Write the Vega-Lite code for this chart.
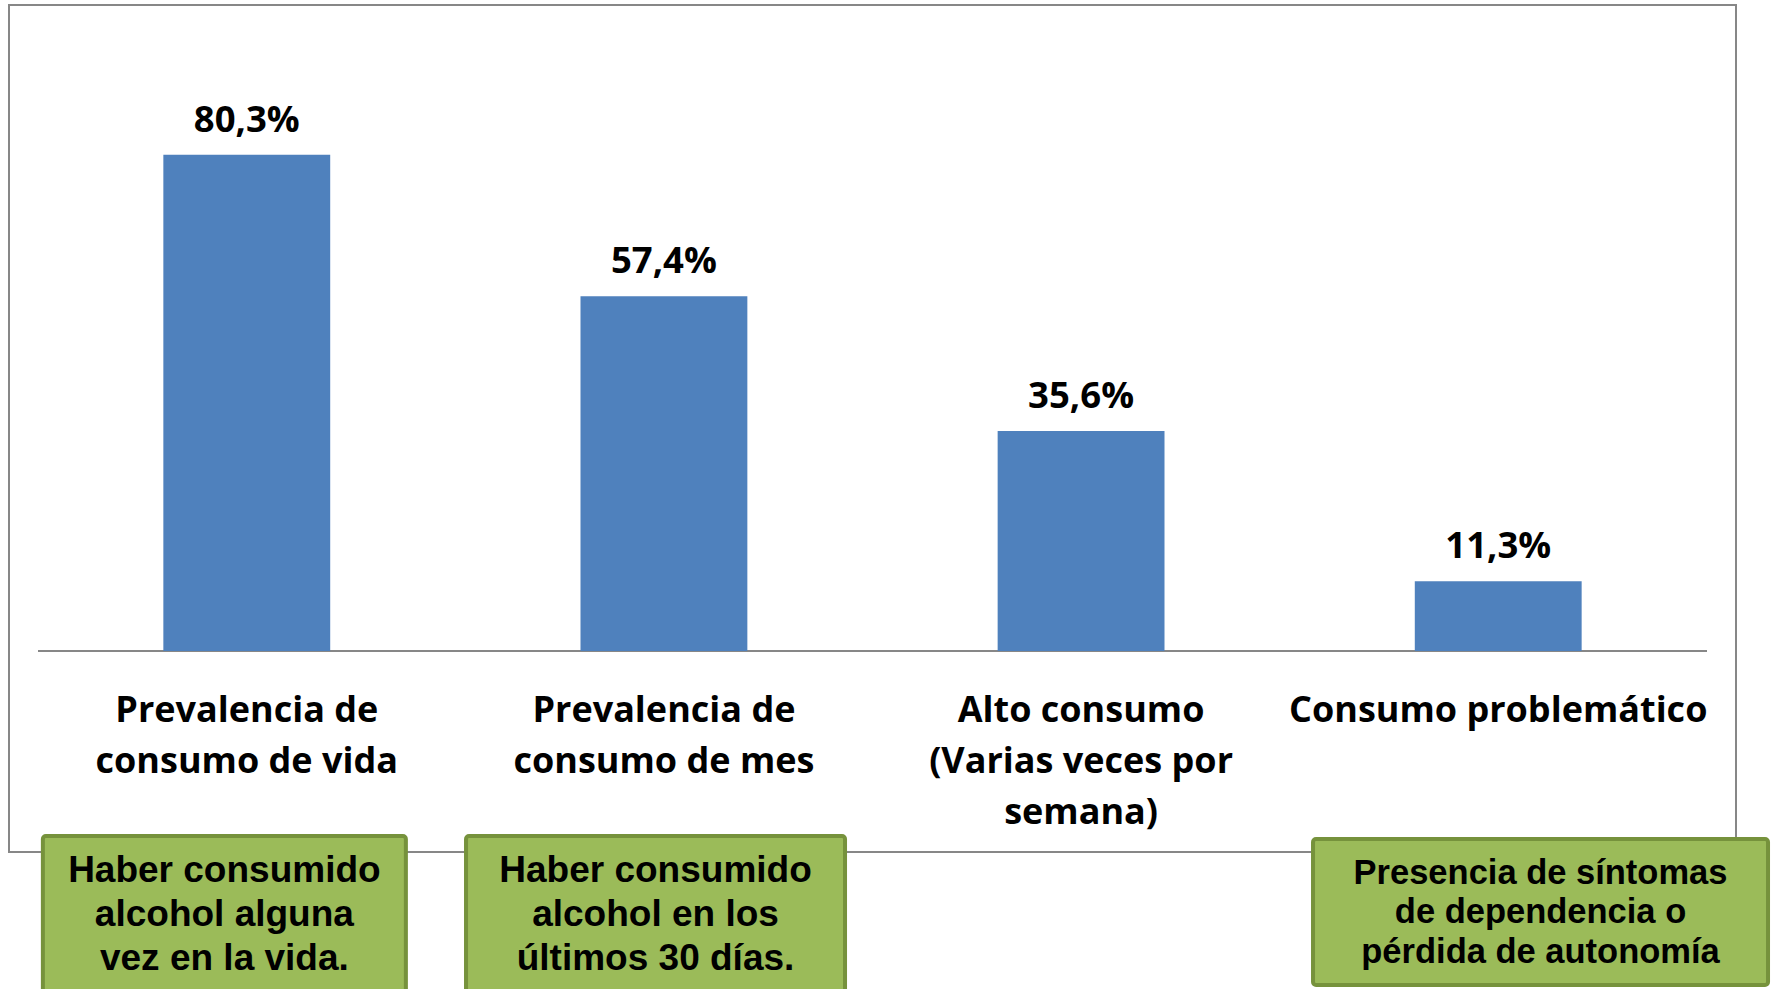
{
  "$schema": "https://vega.github.io/schema/vega-lite/v6.json",
  "autosize": "none",
  "width": 1727,
  "height": 847,
  "padding": {"left": 9, "top": 5, "right": 40, "bottom": 137},
  "background": "white",
  "config": {
    "view": {"stroke": "#878787", "strokeWidth": 2},
    "locale": {"number": {"decimal": ",", "thousands": ".", "grouping": [3], "currency": ["", " €"]}}
  },
  "data": {
    "values": [
      {"categoria": "Prevalencia de\nconsumo de vida", "valor": 0.803, "nota": "Haber consumido\nalcohol alguna\nvez en la vida."},
      {"categoria": "Prevalencia de\nconsumo de mes", "valor": 0.574, "nota": "Haber consumido\nalcohol en  los\núltimos 30 días."},
      {"categoria": "Alto consumo\n(Varias veces por\nsemana)", "valor": 0.356, "nota": null},
      {"categoria": "Consumo problemático", "valor": 0.113, "nota": "Presencia de síntomas\nde dependencia o\npérdida de autonomía"}
    ]
  },
  "encoding": {
    "x": {
      "field": "categoria",
      "type": "nominal",
      "sort": null,
      "scale": {
        "domain": ["Prevalencia de\nconsumo de vida", "Prevalencia de\nconsumo de mes", "Alto consumo\n(Varias veces por\nsemana)", "Consumo problemático"],
        "paddingInner": 0.6,
        "paddingOuter": 0.37
      },
      "axis": {
        "title": null,
        "orient": "bottom",
        "offset": -201,
        "domain": false,
        "ticks": false,
        "tickSize": 0,
        "labelPadding": 70.7,
        "labelBaseline": "alphabetic",
        "labelAngle": 0,
        "labelFont": "Open Sans",
        "labelFontWeight": "bold",
        "labelFontSize": 36,
        "labelColor": "#000000",
        "labelLineHeight": 51,
        "labelLimit": 0,
        "labelOverlap": false,
        "labelFlush": false,
        "labelExpr": "split(datum.value, '\\n')"
      }
    }
  },
  "layer": [
    {
      "mark": {"type": "rule", "color": "#878787", "strokeWidth": 2},
      "encoding": {
        "x": {"datum": "Prevalencia de\nconsumo de vida", "bandPosition": -0.75},
        "x2": {"datum": "Consumo problemático", "bandPosition": 1.75},
        "y": {"datum": 0, "type": "quantitative", "scale": {"domain": [-0.32524, 1.04531], "nice": false, "zero": false}, "axis": null}
      }
    },
    {
      "mark": {"type": "bar", "color": "#4F81BD"},
      "encoding": {
        "y": {"field": "valor", "type": "quantitative", "scale": {"domain": [-0.32524, 1.04531], "nice": false, "zero": false}, "axis": null}
      }
    },
    {
      "mark": {"type": "text", "dy": -23, "baseline": "alphabetic", "align": "center", "font": "Open Sans", "fontWeight": "bold", "fontSize": 36.5, "color": "#000000"},
      "encoding": {
        "y": {"field": "valor", "type": "quantitative"},
        "text": {"field": "valor", "type": "quantitative", "format": ".1%"}
      }
    },
    {
      "transform": [{"filter": "datum.valor > 0.7"}],
      "layer": [
        {
          "mark": {"type": "bar", "width": 363, "xOffset": -22.4, "fill": "#9BBB59", "stroke": "#76923C", "strokeWidth": 4, "cornerRadius": 3, "clip": false},
          "encoding": {"y": {"datum": -0.2994}, "y2": {"datum": -0.62}}
        },
        {
          "mark": {"type": "text", "xOffset": -22.4, "baseline": "alphabetic", "align": "center", "font": "Liberation Sans", "fontWeight": "bold", "fontSize": 37, "lineHeight": 44, "lineBreak": "\n", "color": "#000000"},
          "encoding": {"y": {"datum": -0.3735}, "text": {"field": "nota"}}
        }
      ]
    },
    {
      "transform": [{"filter": "datum.valor > 0.5 && datum.valor < 0.7"}],
      "layer": [
        {
          "mark": {"type": "bar", "width": 379, "xOffset": -8.4, "fill": "#9BBB59", "stroke": "#76923C", "strokeWidth": 4, "cornerRadius": 3, "clip": false},
          "encoding": {"y": {"datum": -0.2994}, "y2": {"datum": -0.62}}
        },
        {
          "mark": {"type": "text", "xOffset": -8.4, "baseline": "alphabetic", "align": "center", "font": "Liberation Sans", "fontWeight": "bold", "fontSize": 37, "lineHeight": 44, "lineBreak": "\n", "color": "#000000"},
          "encoding": {"y": {"datum": -0.3735}, "text": {"field": "nota"}}
        }
      ]
    },
    {
      "transform": [{"filter": "datum.valor < 0.2"}],
      "layer": [
        {
          "mark": {"type": "bar", "width": 455, "xOffset": 42.3, "fill": "#9BBB59", "stroke": "#76923C", "strokeWidth": 4, "cornerRadius": 3, "clip": false},
          "encoding": {"y": {"datum": -0.3042}, "y2": {"datum": -0.5405}}
        },
        {
          "mark": {"type": "text", "xOffset": 42.3, "baseline": "alphabetic", "align": "center", "font": "Liberation Sans", "fontWeight": "bold", "fontSize": 34.5, "lineHeight": 39.5, "lineBreak": "\n", "color": "#000000"},
          "encoding": {"y": {"datum": -0.377}, "text": {"field": "nota"}}
        }
      ]
    }
  ]
}
